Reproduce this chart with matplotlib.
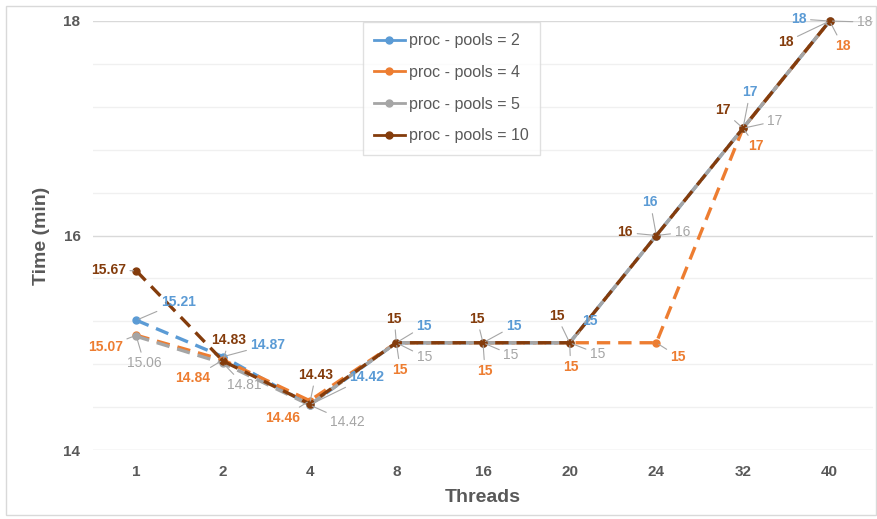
import matplotlib.pyplot as plt
from matplotlib.lines import Line2D
from matplotlib.patches import Rectangle

plt.rcParams['font.family'] = ['Liberation Sans', 'DejaVu Sans']

threads = ['1', '2', '4', '8', '16', '20', '24', '32', '40']
pools_2 = [15.21, 14.87, 14.42, 15, 15, 15, 16, 17, 18]
pools_4 = [15.07, 14.84, 14.46, 15, 15, 15, 15, 17, 18]
pools_5 = [15.06, 14.81, 14.42, 15, 15, 15, 16, 17, 18]
pools_10 = [15.67, 14.83, 14.43, 15, 15, 15, 16, 17, 18]

series = [
    ('proc - pools = 2', pools_2, '#5B9BD5', 'bold'),
    ('proc - pools = 4', pools_4, '#ED7D31', 'bold'),
    ('proc - pools = 5', pools_5, '#A5A5A5', 'normal'),
    ('proc - pools = 10', pools_10, '#843C0C', 'bold'),
]

# label offsets in pixels (dx right, dy down) so the labels don't pile up
label_offsets = [
    [(42, -18), (45, -12), (57, -28), (28, -17), (31, -17), (20, -22), (-6, -33), (7, -36), (-31, -2)],
    [(-31, 12), (-30, 18), (-27, 17), (4, 27), (2, 28), (1, 24), (22, 14), (13, 18), (13, 25)],
    [(8, 27), (21, 22), (38, 17), (28, 14), (28, 12), (28, 11), (26, -3), (32, -7), (35, 1)],
    [(-28, -1), (6, -21), (6, -29), (-2, -24), (-6, -24), (-13, -27), (-31, -3), (-20, -18), (-44, 21)],
]

W, H = 878, 519
fig = plt.figure(figsize=(W / 100, H / 100), dpi=100)
ax = fig.add_axes([93 / W, 69 / H, 780 / W, 429 / H])

x = list(range(len(threads)))
handles = []
for (name, vals, color, weight), offs in zip(series, label_offsets):
    ax.plot(x, vals, color=color, lw=2.4, dashes=(4, 2.4), marker='o',
            markersize=5, clip_on=False, zorder=3)
    handles.append(Line2D([], [], color=color, lw=2, marker='o', markersize=5))
    for xi, v, (dx, dy) in zip(x, vals, offs):
        txt = f'{v:g}'
        ax.annotate(txt, (xi, v), xytext=(dx * 0.72, -dy * 0.72),
                    textcoords='offset points', ha='center', va='center',
                    fontsize=10, color=color, fontweight=weight, zorder=5,
                    annotation_clip=False,
                    arrowprops=dict(arrowstyle='-', color='#A6A6A6', lw=0.8,
                                    shrinkA=1, shrinkB=2))

ax.set_xlim(-0.5, len(threads) - 0.5)
ax.set_ylim(14, 18)
ax.set_xticks(x)
ax.set_xticklabels(threads)
ax.set_yticks([14, 16, 18])
ax.set_yticks([14.4, 14.8, 15.2, 15.6, 16.4, 16.8, 17.2, 17.6], minor=True)
ax.grid(axis='y', which='major', color='#D9D9D9', lw=1)
ax.grid(axis='y', which='minor', color='#F0F0F0', lw=1)
ax.set_axisbelow(True)
for s in ax.spines.values():
    s.set_visible(False)
ax.tick_params(axis='both', which='both', length=0, colors='#595959', labelsize=11)
ax.tick_params(axis='y', pad=9)
ax.tick_params(axis='x', pad=11)
for lbl in ax.get_xticklabels() + ax.get_yticklabels():
    lbl.set_fontweight('bold')

ax.set_xlabel('Threads', fontsize=14, fontweight='bold', color='#595959', labelpad=7)
ax.set_ylabel('Time (min)', fontsize=14, fontweight='bold', color='#595959', labelpad=10)

leg = fig.legend(handles, [s[0] for s in series], loc='upper left',
                 bbox_to_anchor=(363 / W, 1 - 22 / H), bbox_transform=fig.transFigure,
                 borderaxespad=0, fontsize=11.5, frameon=True, fancybox=False,
                 edgecolor='#D9D9D9', handlelength=1.9, handletextpad=0.3,
                 labelspacing=1.05, borderpad=0.7, labelcolor='#595959')
leg.get_frame().set_linewidth(1)

fig.patches.append(Rectangle((6 / W, 4 / H), 870 / W, 509 / H, transform=fig.transFigure,
                             fill=False, edgecolor='#D9D9D9', lw=1))

fig.savefig('out.png', dpi=100)
